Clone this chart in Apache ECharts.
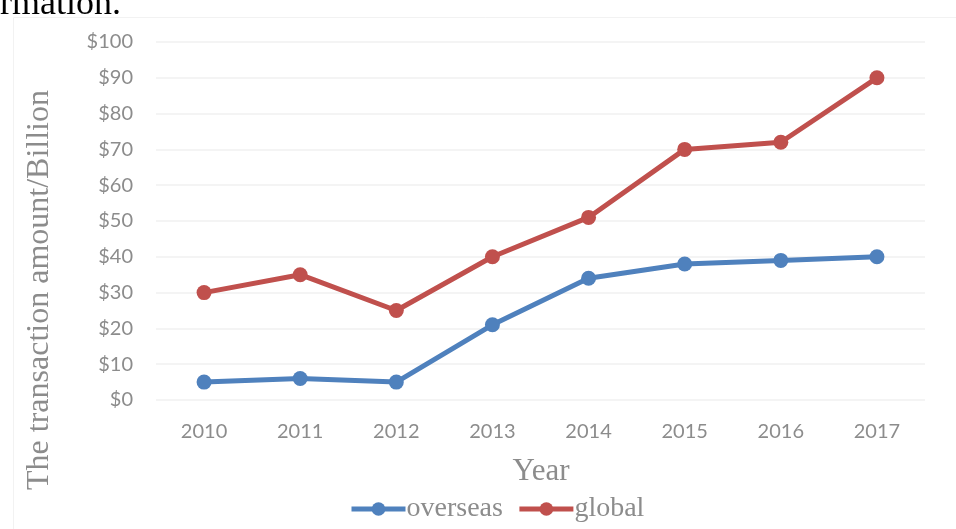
<!DOCTYPE html>
<html><head><meta charset="utf-8">
<script src="https://cdn.jsdelivr.net/npm/echarts@6/dist/echarts.min.js"></script>
<style>html,body{margin:0;padding:0;background:#fff}#c{width:956px;height:529px}</style>
</head><body><div id="c"></div>
<script>
const categories = ['2010','2011','2012','2013','2014','2015','2016','2017'];
const overseas = [5, 6, 5, 21, 34, 38, 39, 40];
const global = [30, 35, 25, 40, 51, 70, 72, 90];
const seriesNames = ['overseas', 'global'];
const yTitle = 'The transaction amount/Billion';
const xTitle = 'Year';

const chart = echarts.init(document.getElementById('c'), null, {renderer: 'canvas'});
const labelFont = 'Lato, "Open Sans", sans-serif';
const serif = '"Liberation Serif", "DejaVu Serif", serif';
chart.setOption({
  animation: false,
  backgroundColor: '#fff',
  grid: {left: 156, right: 31, top: 42, bottom: 129, containLabel: false},
  xAxis: {
    type: 'category', data: categories, boundaryGap: true,
    axisLine: {show: false}, axisTick: {show: false},
    axisLabel: {color: '#8c8c8c', fontSize: 20, fontFamily: labelFont, margin: 22}
  },
  yAxis: {
    type: 'value', min: 0, max: 100, interval: 10,
    axisLine: {show: false}, axisTick: {show: false},
    axisLabel: {color: '#8c8c8c', fontSize: 20, fontFamily: labelFont, margin: 23, formatter: v => '$' + v},
    splitLine: {lineStyle: {color: '#f0f0f0', width: 1.5}}
  },
  legend: {
    data: seriesNames, bottom: 1, left: 344, itemGap: 14, itemWidth: 54, itemHeight: 17,
    lineStyle: {width: 5},
    textStyle: {color: '#8c8c8c', fontSize: 28, fontFamily: serif, padding: [0,0,0,-4]}
  },
  series: [
    {name: seriesNames[0], type: 'line', data: overseas, symbol: 'circle', symbolSize: 15,
     color: '#4f81bd', lineStyle: {width: 5, color: '#4f81bd'}, itemStyle: {color: '#4f81bd'}},
    {name: seriesNames[1], type: 'line', data: global, symbol: 'circle', symbolSize: 15,
     color: '#c0504d', lineStyle: {width: 5, color: '#c0504d'}, itemStyle: {color: '#c0504d'}}
  ],
  graphic: [
    {type: 'rect', left: 11, top: 15, shape: {width: 960, height: 530}, style: {fill: 'none', stroke: '#f2f2f2', lineWidth: 1}, silent: true},
    {type: 'text', left: 0, top: -13, style: {text: 'rmation.', font: '36px ' + serif, fill: '#000'}},
    {type: 'text', x: 40, y: 290, rotation: Math.PI / 2, style: {text: yTitle, font: '32px ' + serif, fill: '#8c8c8c', align: 'center', verticalAlign: 'middle'}},
    {type: 'text', x: 541, y: 472, style: {text: xTitle, font: '31px ' + serif, fill: '#8c8c8c', align: 'center', verticalAlign: 'middle'}}
  ]
});
</script></body></html>
